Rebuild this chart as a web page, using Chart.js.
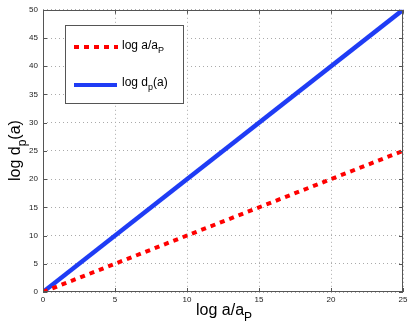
<!DOCTYPE html>
<html>
<head>
<meta charset="utf-8">
<script src="https://cdn.jsdelivr.net/npm/chart.js@4.4.1/dist/chart.umd.min.js"></script>
<style>
  html, body { margin: 0; padding: 0; background: #fff; }
  #wrap { width: 411px; height: 327px; position: relative; }
</style>
</head>
<body>
<div id="wrap"><canvas id="chart" width="411" height="327"></canvas></div>
<script>
// data
const xValues = [0, 25];
const ratioValues = [0, 25];   // log a/aP (red dotted)
const depthValues = [0, 50];   // log dp(a) (blue solid)
const xTicks = [0, 5, 10, 15, 20, 25];
const yTicks = [0, 5, 10, 15, 20, 25, 30, 35, 40, 45, 50];

const FONT = '"Liberation Sans", Arial, sans-serif';

function toPoints(xs, ys) {
  return xs.map((x, i) => ({ x: x, y: ys[i] }));
}

// draw text with a subscript part, returns its width
function subText(ctx, x, y, main, sub, tail, size) {
  ctx.font = size + 'px ' + FONT;
  ctx.fillText(main, x, y);
  let w = ctx.measureText(main).width;
  ctx.font = Math.round(size * 0.75) + 'px ' + FONT;
  ctx.fillText(sub, x + w, y + size * 0.35);
  w += ctx.measureText(sub).width;
  if (tail) {
    ctx.font = size + 'px ' + FONT;
    ctx.fillText(tail, x + w, y);
    w += ctx.measureText(tail).width;
  }
  return w;
}

// box, inward ticks, axis titles and legend like the matlab figure
const decorPlugin = {
  id: 'decor',
  afterDatasetsDraw(chart) {
    const ctx = chart.ctx;
    const a = chart.chartArea;
    const xs = chart.scales.x, ys = chart.scales.y;
    ctx.save();
    ctx.strokeStyle = '#555';
    ctx.lineWidth = 1;
    ctx.strokeRect(Math.round(a.left) + 0.5, Math.round(a.top) + 0.5,
      Math.round(a.right - a.left) - 1, Math.round(a.bottom - a.top) - 1);
    ctx.beginPath();
    xTicks.forEach(t => {
      const px = Math.round(xs.getPixelForValue(t)) + 0.5;
      ctx.moveTo(px, a.bottom); ctx.lineTo(px, a.bottom - 4);
      ctx.moveTo(px, a.top); ctx.lineTo(px, a.top + 4);
    });
    yTicks.forEach(t => {
      const py = Math.round(ys.getPixelForValue(t)) + 0.5;
      ctx.moveTo(a.left, py); ctx.lineTo(a.left + 4, py);
      ctx.moveTo(a.right, py); ctx.lineTo(a.right - 4, py);
    });
    ctx.stroke();

    // axis titles
    ctx.fillStyle = '#000';
    ctx.textBaseline = 'alphabetic';
    ctx.textAlign = 'left';
    subText(ctx, 196, 315, 'log a/a', 'P', '', 16);
    ctx.save();
    ctx.translate(20, 181);
    ctx.rotate(-Math.PI / 2);
    subText(ctx, 0, 0, 'log d', 'p', '(a)', 16);
    ctx.restore();

    // legend
    ctx.fillStyle = '#fff';
    ctx.fillRect(65, 25, 118, 78);
    ctx.strokeStyle = '#555';
    ctx.strokeRect(65.5, 25.5, 118, 78);
    ctx.lineWidth = 4;
    ctx.strokeStyle = '#ff0000';
    ctx.setLineDash([5, 5]);
    ctx.beginPath(); ctx.moveTo(74, 47); ctx.lineTo(118, 47); ctx.stroke();
    ctx.setLineDash([]);
    ctx.strokeStyle = '#1f3cf5';
    ctx.beginPath(); ctx.moveTo(74, 85); ctx.lineTo(117, 85); ctx.stroke();
    ctx.fillStyle = '#000';
    subText(ctx, 122, 49, 'log a/a', 'P', '', 12);
    subText(ctx, 122, 86, 'log d', 'p', '(a)', 12);
    ctx.restore();
  }
};

new Chart(document.getElementById('chart'), {
  type: 'line',
  data: {
    datasets: [
      {
        label: 'log a/aP',
        data: toPoints(xValues, ratioValues),
        borderColor: '#ff0000',
        borderWidth: 4,
        borderDash: [5, 5],
        pointRadius: 0,
        fill: false
      },
      {
        label: 'log dp(a)',
        data: toPoints(xValues, depthValues),
        borderColor: '#1f3cf5',
        borderWidth: 4.5,
        pointRadius: 0,
        fill: false
      }
    ]
  },
  options: {
    responsive: false,
    animation: false,
    layout: { padding: { top: 7, right: 8, left: 0, bottom: 0 } },
    plugins: { legend: { display: false }, tooltip: { enabled: false } },
    scales: {
      x: {
        type: 'linear',
        min: 0, max: 25,
        afterBuildTicks: s => { s.ticks = xTicks.map(v => ({ value: v })); },
        afterFit: s => { s.height = 35; },
        grid: { color: '#aaa', lineWidth: 1, drawTicks: false },
        border: { display: false, dash: [1, 3] },
        ticks: { color: '#222', font: { size: 8, family: FONT }, padding: 3, maxRotation: 0 }
      },
      y: {
        type: 'linear',
        min: 0, max: 50,
        afterBuildTicks: s => { s.ticks = yTicks.map(v => ({ value: v })); },
        afterFit: s => { s.width = 43; },
        grid: { color: '#aaa', lineWidth: 1, drawTicks: false },
        border: { display: false, dash: [1, 3] },
        ticks: { color: '#222', font: { size: 8, family: FONT }, padding: 5 }
      }
    }
  },
  plugins: [decorPlugin]
});
</script>
</body>
</html>
